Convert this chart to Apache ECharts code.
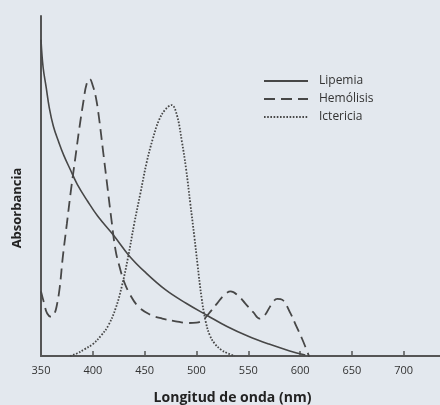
<!DOCTYPE html>
<html>
<head>
<meta charset="utf-8">
<script src="https://cdn.jsdelivr.net/npm/echarts@6/dist/echarts.min.js"></script>
<style>
html,body{margin:0;padding:0;background:#e3e8ee;}
#c{width:440px;height:405px;}
</style>
</head>
<body>
<div id="c"></div>
<script>
var tickLabels = [350, 400, 450, 500, 550, 600, 650, 700];

var lipemia = [
  [350, 93], [352, 85], [355, 79], [358, 73], [362, 67.5], [367, 63], [372, 59],
  [378, 55], [385, 50.5], [395, 45.5], [405, 41], [420, 35.5], [435, 29.5],
  [450, 24.8], [470, 19.5], [490, 15.5], [510, 12], [530, 8.6], [550, 5.8],
  [570, 3.5], [590, 1.5], [605, 0.3]
];

var hemolisis = [
  [350, 19], [353, 15.5], [356, 12.5], [360, 11.5], [363, 12.5], [365, 14.5],
  [368, 20], [371, 29], [375, 39], [379, 49], [383, 58], [387, 67], [391, 75],
  [394, 80], [397, 81.5], [400, 79.5], [403, 76], [406, 70], [410, 60],
  [414, 50], [418, 40], [422, 31], [426, 26], [430, 22], [436, 18], [444, 14.5],
  [455, 12.2], [467, 11], [480, 10.2], [492, 9.7], [500, 9.8], [506, 10.5],
  [512, 12.5], [520, 15.5], [527, 18], [533, 19], [540, 17.8], [547, 15.5],
  [555, 12.8], [561, 11], [566, 12], [572, 15], [578, 16.8], [583, 16.5],
  [590, 13], [596, 9], [602, 5], [606, 2], [609, -0.4]
];

var ictericia = [
  [378, 0], [385, 0.8], [392, 2], [400, 3.5], [408, 6], [415, 9], [422, 14],
  [428, 20.5], [434, 29], [440, 39], [446, 48], [452, 57], [458, 64],
  [464, 69.5], [470, 72.5], [476, 73.8], [481, 71], [486, 63], [490, 55],
  [494, 45], [498, 35], [501, 27], [505, 17], [509, 10], [513, 6], [518, 3.5],
  [524, 1.8], [530, 0.8], [537, 0]
];

var chart = echarts.init(document.getElementById('c'), null, {renderer: 'canvas'});
var lineColor = '#474747';
var font = '"Open Sans", "Liberation Sans", sans-serif';

chart.setOption({
  backgroundColor: '#e3e8ee',
  animation: false,
  grid: {left: 41, right: 0, top: 16, bottom: 49, containLabel: false, outerBoundsMode: 'none'},
  legend: {
    orient: 'vertical',
    left: 258,
    top: 70,
    itemWidth: 44,
    itemHeight: 12,
    itemGap: 6,
    itemStyle: {opacity: 0},
    textStyle: {fontFamily: font, fontSize: 12, color: '#333', padding: [0, 0, 0, 6]},
    data: ['Lipemia', 'Hemólisis', 'Ictericia']
  },
  xAxis: {
    type: 'value',
    min: 350,
    max: 735,
    name: 'Longitud de onda (nm)',
    nameLocation: 'middle',
    nameGap: 35,
    nameTextStyle: {fontFamily: font, fontSize: 14, fontWeight: 'bold', color: '#222', padding: [0, 16, 0, 0]},
    axisLine: {show: true, lineStyle: {color: '#555', width: 2}},
    axisTick: {show: true, inside: true, length: 5, lineStyle: {color: '#555', width: 1.5}, customValues: tickLabels},
    axisLabel: {fontFamily: font, fontSize: 11, color: '#333', margin: 9, customValues: tickLabels},
    splitLine: {show: false}
  },
  yAxis: {
    type: 'value',
    min: 0,
    max: 100,
    name: 'Absorbancia',
    nameLocation: 'middle',
    nameGap: 17,
    nameRotate: 90,
    nameTextStyle: {fontFamily: font, fontSize: 13, fontWeight: 'bold', color: '#222', padding: [0, 44, 0, 0]},
    axisLine: {show: true, lineStyle: {color: '#555', width: 2}},
    axisTick: {show: false},
    axisLabel: {show: false},
    splitLine: {show: false}
  },
  series: [
    {
      name: 'Lipemia', type: 'line', data: lipemia, smooth: 0.4, symbol: 'none',
      lineStyle: {color: lineColor, width: 1.6, type: 'solid'},
      itemStyle: {color: lineColor}
    },
    {
      name: 'Hemólisis', type: 'line', data: hemolisis, smooth: 0.4, symbol: 'none',
      lineStyle: {color: lineColor, width: 1.8, type: [11, 6]},
      itemStyle: {color: lineColor}
    },
    {
      name: 'Ictericia', type: 'line', data: ictericia, smooth: 0.4, symbol: 'none',
      lineStyle: {color: lineColor, width: 1.8, type: [1.6, 1.6]},
      itemStyle: {color: lineColor}
    }
  ]
});
</script>
</body>
</html>
